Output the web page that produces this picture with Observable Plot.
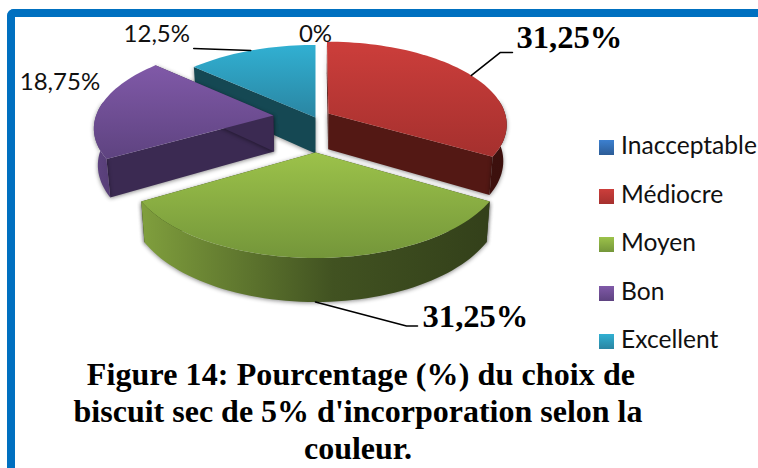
<!DOCTYPE html>
<html><head><meta charset="utf-8">
<script src="https://cdn.jsdelivr.net/npm/d3@7"></script>
<script src="https://cdn.jsdelivr.net/npm/@observablehq/plot@0.6"></script>
<style>
html,body{margin:0;padding:0;background:#fff;overflow:hidden}
#page{position:relative;width:758px;height:468px;overflow:hidden;background:#fff}
#frame{position:absolute;left:7px;top:9px;width:760px;height:470px;border-top:8px solid #0070c0;border-left:8px solid #0070c0;border-top-left-radius:7px;box-sizing:border-box}
#chart{position:absolute;left:0;top:0}
#legend{position:absolute;left:599px;top:121px;font:24.6px Lato,sans-serif;color:#111}
#legend div{position:relative;height:48.5px;line-height:48.5px;white-space:nowrap}
#legend i{display:inline-block;width:15px;height:15px;margin-right:7px;vertical-align:-1px}
#caption{position:absolute;left:0;top:356px;width:716px;text-align:center;font:bold 32px/37px "Liberation Serif",serif;color:#000}
#caption span{display:block;white-space:nowrap}
#caption span:first-child{padding-left:6px;letter-spacing:.1px}
</style></head><body>
<div id="page"><div id="frame"></div><div id="chart"></div><div id="legend"></div>
<div id="caption"></div></div>
<script>
const categories=["Inacceptable","Médiocre","Moyen","Bon","Excellent"];
const values=[0,31.25,31.25,18.75,12.5];
const valueLabels=["0%","31,25%","31,25%","18,75%","12,5%"];
const labelBold=[false,true,true,false,false];
const captionLines=["Figure 14: Pourcentage (%) du choix de","biscuit sec de 5% d'incorporation selon la","couleur."];
const topColors=[["#3c80d0","#2c5c96"],["#cc3e3b","#a5302e"],["#9cc24a","#74963a"],["#8059a8","#5e4380"],["#31b0d2","#2a85a2"]];
const sideColors=["#1c3f66","#531814","#35421a","#3b2a52","#154853"];
const wallColors=[["#2c5c96","#1c3f66"],["#531814","#3c100d"],["#809f3d","#33401a"],["#5f4482","#483364"],["#2a85a2","#154853"]];
const explode=[[0,0],[.073,.146],[0,-.309],[-.238,.121],[0,.096]];
const labelNudge=[[0,-17],[98,-38],[160,15],[-40,-25],[-94,-16]];
const leaderNudge=[[],[[29,-23],[41,-23]],[[91,24],[102,24]],[],[[-57,-2]]];
const drawOrder=[4,1,3,2];

const W=758,H=356,cx=315,cy=125,R=180,S=84,k=.13,D=36.5,taper=.982,frontLimit=.2;
const arcs=d3.pie().sort(null)(values);
const proj=(i,a,r=1,down=false)=>{
  const X=explode[i][0]+r*Math.sin(a),Z=explode[i][1]+r*Math.cos(a),w=1+k*Z;
  return {x:cx+R*X/w*(down?taper:1),y:cy-S*Z/w+(down?D/w:0)};
};
const arcAngles=i=>{
  const {startAngle:a0,endAngle:a1}=arcs[i],n=Math.max(2,Math.ceil((a1-a0)/(Math.PI/90)));
  return d3.range(n+1).map(j=>a0+(a1-a0)*j/n);
};
const grad=(id,c0,c1,horizontal,x0,x1)=>{
  const g=horizontal
   ?`<linearGradient id="${id}" gradientUnits="userSpaceOnUse" x1="${x0}" x2="${x1}" y1="0" y2="0">`
   :`<linearGradient id="${id}" x1="0" x2="0" y1="0" y2="1">`;
  const mid=horizontal?`<stop offset=".55" stop-color="${d3.interpolateLab(c0,c1)(.8)}"/>`:"";
  return g+`<stop offset="0" stop-color="${c0}"/>${mid}<stop offset="1" stop-color="${c1}"/></linearGradient>`;
};
const shadow=(index,scales,vals,dim,ctx,next)=>{
  const g=next(index,scales,vals,dim,ctx);
  g.style.filter="drop-shadow(0 1px 2px rgba(0,0,0,.45))";
  return g;
};
const poly=(pts,fill,extra={})=>Plot.line(pts,{x:"x",y:"y",fill,stroke:"none",curve:"linear",...extra});
const marks=[];let defs="";
for(const i of drawOrder){
  const angles=arcAngles(i);
  const top=angles.map(a=>proj(i,a));
  const front=angles.filter(a=>Math.cos(a)<frontLimit);
  const {startAngle:a0,endAngle:a1}=arcs[i];
  const xs=top.map(d=>d.x);
  defs+=grad("t"+i,topColors[i][0],topColors[i][1]);
  defs+=grad("w"+i,wallColors[i][0],wallColors[i][1],true,d3.min(xs),d3.max(xs));
  const c=proj(i,0,0),cd=proj(i,0,0,true);
  marks.push(poly([c,cd,proj(i,a0,1,true),proj(i,a0,1)],sideColors[i],{render:shadow}));
  marks.push(poly([c,cd,proj(i,a1,1,true),proj(i,a1,1)],sideColors[i],{render:shadow}));
  if(front.length>1) marks.push(poly([...front.map(a=>proj(i,a)),...front.slice().reverse().map(a=>proj(i,a,1,true))],`url(#w${i})`,{render:shadow}));
  marks.push(poly([c,...top],`url(#t${i})`));
}
const anchors=arcs.map((d,i)=>{
  const mid=(d.startAngle+d.endAngle)/2;
  return proj(i,mid,1,Math.cos(mid)<0);
});
anchors.forEach((p,i)=>{
  if(!leaderNudge[i].length) return;
  marks.push(Plot.line([p,...leaderNudge[i].map(([dx,dy])=>({x:p.x+dx,y:p.y+dy}))],{x:"x",y:"y",stroke:"#000",strokeWidth:1.6}));
});
const labelRows=categories.map((c,i)=>({t:valueLabels[i],bold:labelBold[i],x:anchors[i].x+labelNudge[i][0],y:anchors[i].y+labelNudge[i][1]}));
marks.push(Plot.text(labelRows.filter(d=>!d.bold),{x:"x",y:"y",text:"t",fill:"#111",fontSize:24,fontFamily:"Lato, sans-serif"}));
marks.push(Plot.text(labelRows.filter(d=>d.bold),{x:"x",y:"y",text:"t",fill:"#000",fontSize:32.6,fontWeight:"bold",fontFamily:"'Liberation Serif', serif"}));

const svg=Plot.plot({width:W,height:H,margin:0,
  x:{domain:[0,W],range:[0,W],axis:null},
  y:{domain:[0,H],range:[0,H],axis:null},
  style:{background:"transparent",overflow:"visible"},
  marks});
const dEl=document.createElementNS("http://www.w3.org/2000/svg","defs");
dEl.innerHTML=defs;svg.insertBefore(dEl,svg.firstChild);
document.getElementById("chart").append(svg);
const lg=document.getElementById("legend");
categories.forEach((c,i)=>{
  const row=document.createElement("div");
  const sw=document.createElement("i");
  sw.style.background=`linear-gradient(${topColors[i][0]},${topColors[i][1]})`;
  row.append(sw,c);lg.append(row);
});
const cap=document.getElementById("caption");
captionLines.forEach(t=>{const s=document.createElement("span");s.textContent=t;cap.append(s);});
</script></body></html>
